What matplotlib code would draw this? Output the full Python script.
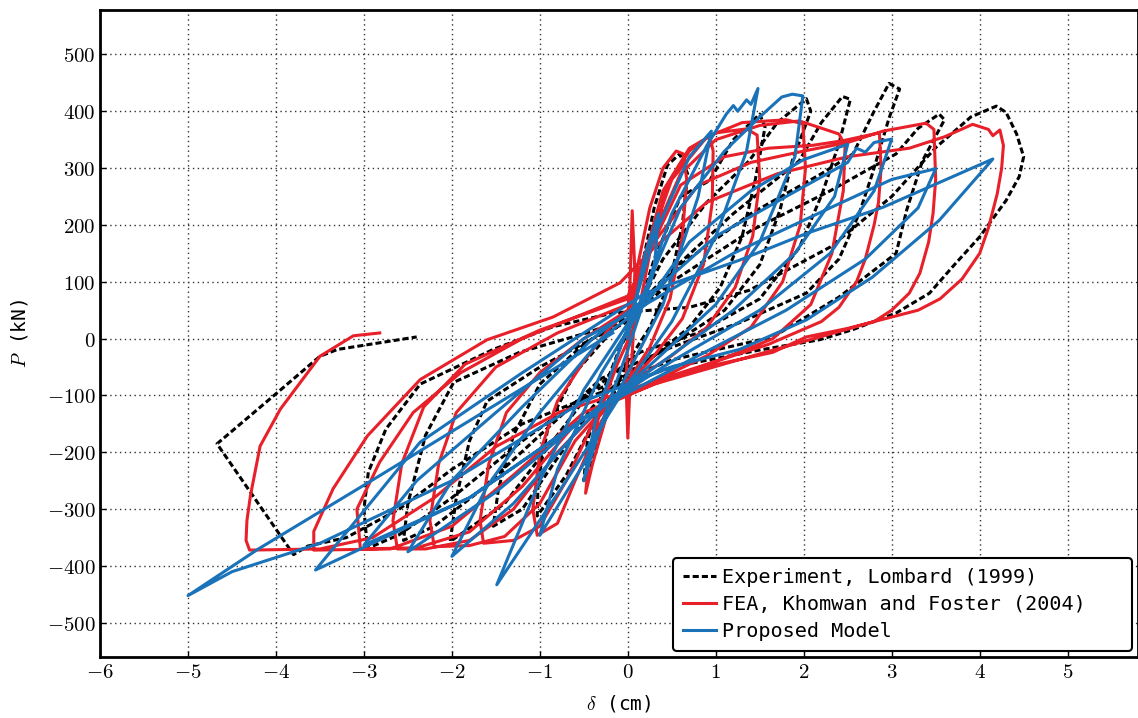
import numpy as np
import matplotlib.pyplot as plt
from matplotlib.ticker import FuncFormatter, MultipleLocator

plt.rcParams['mathtext.fontset'] = 'cm'

# Experiment, Lombard (1999): (delta [cm], P [kN]) vertices, cycle by cycle
exp_pts = [
    (0.0, 0), (0.15, 120), (0.3, 230), (0.45, 305), (0.59, 325), (0.68, 290), (0.62, 200), (0.48, 100),
    (0.25, 20), (0.0, -40), (-0.2, -110), (-0.35, -190), (-0.5, -250), (-0.46, -180), (-0.3, -100),
    (-0.1, -20), (0.1, 40),
    (0.3, 140), (0.6, 250), (0.93, 278), (1.2, 350), (1.5, 395), (1.56, 372), (1.45, 280), (1.3, 180),
    (1.05, 90), (0.7, 20), (0.3, -30), (-0.1, -80), (-0.4, -150), (-0.7, -240), (-1.03, -312),
    (-1.02, -250), (-0.9, -150), (-0.6, -60), (-0.2, 10), (0.1, 50),
    (0.4, 140), (0.9, 240), (1.38, 313), (1.7, 380), (2.03, 422), (2.08, 400), (1.87, 313), (1.73, 226),
    (1.5, 130), (1.1, 50), (0.5, -10), (0.0, -60), (-0.4, -120), (-0.8, -210), (-1.2, -300),
    (-1.53, -330), (-1.47, -264), (-1.3, -170), (-1.0, -80), (-0.5, -10), (0.0, 40),
    (0.5, 120), (1.2, 220), (1.95, 313), (2.2, 380), (2.44, 426), (2.53, 421), (2.4, 343), (2.21, 255),
    (1.95, 160), (1.5, 70), (0.8, 10), (0.14, -24), (-0.43, -94), (-0.92, -194), (-1.4, -290),
    (-2.02, -357), (-1.95, -280), (-1.8, -180), (-1.6, -110), (-1.0, -50), (-0.4, 0), (0.0, 30),
    (0.6, 130), (1.4, 220), (2.2, 290), (2.56, 325), (2.8, 400), (2.97, 449), (3.09, 439), (2.97, 388),
    (2.78, 290), (2.63, 220), (2.4, 140), (2.03, 80), (1.27, 28), (0.5, -15), (-0.3, -70), (-1.0, -170),
    (-1.7, -270), (-2.2, -330), (-2.55, -355), (-2.5, -290), (-2.3, -170), (-1.98, -77), (-1.23, -24),
    (-0.47, 10), (0.0, 35),
    (0.5, 100), (1.4, 190), (2.3, 260), (3.05, 325), (3.3, 370), (3.54, 395), (3.6, 385), (3.35, 313),
    (3.17, 226), (3.05, 150), (2.4, 73), (1.65, 3), (0.51, -37), (-0.43, -94), (-1.2, -180),
    (-2.0, -280), (-2.6, -345), (-2.96, -369), (-3.0, -300), (-2.95, -235), (-2.75, -159),
    (-2.36, -80), (-1.53, -19), (-0.85, 21), (-0.17, 45),
    (0.7, 55), (1.38, 85), (2.3, 161), (3.0, 250), (3.5, 336), (3.9, 390), (4.19, 409), (4.3, 398),
    (4.42, 360), (4.5, 320), (4.45, 285), (4.3, 243), (4.0, 179), (3.69, 126), (3.43, 80), (3.05, 45),
    (2.56, 16), (2.18, -2), (1.5, -20), (0.5, -50), (-0.4, -100), (-1.2, -150), (-2.0, -230),
    (-2.6, -300), (-3.2, -350), (-3.64, -365), (-3.8, -380), (-4.67, -185), (-4.03, -101),
    (-3.5, -31), (-3.3, -19), (-2.4, 3),
]

# FEA, Khomwan and Foster (2004)
fea_pts = [
    (0.0, 0), (0.03, 120), (0.05, 225), (0.08, 120), (0.06, 0), (0.02, -100), (0.0, -175),
    (-0.02, -80), (0.0, 0),
    (0.1, 120), (0.25, 230), (0.4, 300), (0.55, 330), (0.63, 325), (0.67, 280), (0.62, 180),
    (0.48, 70), (0.25, -15), (0.0, -75), (-0.25, -140), (-0.4, -220), (-0.48, -272), (-0.44, -210),
    (-0.32, -130), (-0.12, -45), (0.1, 30),
    (0.25, 150), (0.45, 270), (0.7, 330), (0.93, 357), (0.97, 330), (0.96, 240), (0.86, 130),
    (0.62, 35), (0.3, -30), (0.0, -80), (-0.3, -145), (-0.6, -250), (-0.8, -325), (-1.03, -346),
    (-1.08, -300), (-1.0, -200), (-0.8, -110), (-0.5, -40), (-0.2, 20), (0.05, 55),
    (0.2, 150), (0.4, 260), (0.7, 335), (1.0, 362), (1.35, 369), (1.47, 358), (1.5, 280), (1.42, 180),
    (1.22, 90), (0.9, 20), (0.5, -30), (0.0, -80), (-0.4, -150), (-0.7, -250), (-1.0, -330),
    (-1.3, -355), (-1.64, -360), (-1.68, -320), (-1.58, -220), (-1.38, -130), (-1.0, -60),
    (-0.5, 0), (0.0, 50),
    (0.2, 150), (0.5, 280), (0.9, 355), (1.3, 380), (1.8, 385), (1.99, 378), (2.02, 300), (1.96, 200),
    (1.76, 100), (1.4, 20), (0.9, -30), (0.3, -75), (-0.2, -110), (-0.6, -180), (-1.0, -290),
    (-1.4, -348), (-1.8, -364), (-2.2, -366), (-2.25, -320), (-2.15, -220), (-1.95, -130),
    (-1.5, -50), (-0.8, 10), (0.0, 60),
    (0.2, 150), (0.6, 290), (1.0, 350), (1.5, 375), (1.95, 383), (2.4, 360), (2.47, 340), (2.45, 260),
    (2.32, 150), (2.08, 60), (1.65, 0), (1.0, -40), (0.3, -80), (-0.3, -120), (-0.8, -200),
    (-1.3, -300), (-1.8, -355), (-2.3, -370), (-2.62, -370), (-2.67, -320), (-2.57, -220),
    (-2.32, -120), (-1.85, -45), (-1.0, 15), (0.0, 70),
    (0.2, 140), (0.6, 270), (1.1, 320), (1.6, 335), (2.1, 340), (2.44, 348), (2.86, 362), (2.88, 300),
    (2.85, 240), (2.8, 200), (2.7, 140), (2.6, 100), (2.4, 55), (2.2, 30), (1.6, -10), (0.8, -50),
    (0.0, -90), (-0.6, -150), (-1.2, -260), (-1.8, -340), (-2.4, -368), (-3.04, -370), (-3.08, -300),
    (-2.82, -217), (-2.44, -130), (-1.9, -60), (-1.2, 0), (-0.4, 50), (0.0, 75),
    (0.3, 170), (0.8, 270), (1.4, 310), (2.0, 330), (2.5, 345), (2.9, 365), (3.39, 379), (3.48, 368),
    (3.5, 280), (3.47, 220), (3.42, 170), (3.32, 115), (3.2, 80), (3.0, 50), (2.8, 30), (2.0, -5),
    (1.2, -40), (0.3, -80), (-0.5, -130), (-1.3, -240), (-2.0, -330), (-2.7, -370), (-3.57, -372),
    (-3.57, -339), (-3.35, -264), (-2.96, -171), (-2.36, -72), (-1.6, -2), (-0.85, 38), (-0.09, 98),
    (0.3, 160), (0.9, 240), (1.7, 290), (2.5, 320), (3.2, 335), (3.6, 355), (3.92, 377), (4.1, 368),
    (4.15, 357), (4.23, 367), (4.27, 340), (4.25, 300), (4.2, 255), (4.1, 195), (4.0, 150),
    (3.8, 105), (3.55, 70), (3.3, 50), (3.0, 38), (2.5, 18), (2.03, 3), (1.65, -24), (0.9, -49),
    (-0.05, -94), (-0.77, -129), (-1.5, -190), (-2.2, -280), (-2.9, -350), (-3.5, -370),
    (-4.3, -372), (-4.34, -355), (-4.33, -320), (-4.29, -276), (-4.18, -189), (-3.95, -124),
    (-3.5, -31), (-3.12, 5), (-2.82, 10),
]

# Proposed Model
mod_pts = [
    (0.0, 0), (0.2, 150), (0.35, 220), (0.3, 120), (0.0, -20), (-0.3, -150), (-0.5, -250),
    (-0.35, -130), (0.0, 20),
    (0.3, 180), (0.7, 320), (0.95, 365), (0.8, 250), (0.4, 60), (0.0, -60), (-0.5, -220),
    (-1.0, -346), (-0.8, -230), (-0.3, -60), (0.1, 40),
    (0.5, 220), (0.9, 340), (1.12, 395), (1.2, 410), (1.25, 400), (1.35, 420), (1.4, 412),
    (1.48, 440), (1.35, 330), (1.0, 180), (0.5, 30), (0.0, -80), (-0.7, -250), (-1.49, -433),
    (-1.0, -250), (-0.5, -90), (0.1, 50),
    (0.6, 230), (1.1, 330), (1.5, 390), (1.75, 425), (1.87, 430), (1.99, 427), (1.9, 320), (1.5, 170),
    (1.0, 60), (0.3, -40), (-0.5, -150), (-1.3, -290), (-2.0, -383), (-1.6, -260), (-1.0, -130),
    (-0.3, 0), (0.2, 60),
    (0.7, 170), (1.4, 260), (2.0, 315), (2.5, 342), (2.35, 250), (1.9, 150), (1.2, 50), (0.4, -40),
    (-0.5, -140), (-1.5, -270), (-2.5, -375), (-2.0, -250), (-1.2, -120), (-0.4, 0), (0.2, 70),
    (1.0, 180), (1.8, 250), (2.5, 310), (2.6, 335), (2.7, 328), (2.8, 345), (3.0, 351), (2.8, 260),
    (2.3, 150), (1.5, 50), (0.5, -40), (-0.5, -140), (-1.8, -280), (-3.0, -363), (-2.4, -250),
    (-1.5, -130), (-0.5, 0), (0.2, 60),
    (1.2, 150), (2.3, 230), (3.0, 280), (3.5, 299), (3.3, 230), (2.7, 140), (1.8, 50), (0.8, -30),
    (-0.3, -120), (-1.8, -280), (-3.55, -407), (-2.36, -182), (-1.2, -60), (0.2, 80),
    (1.27, 138), (2.03, 185), (2.9, 231), (4.15, 316), (3.54, 208), (2.78, 108), (2.03, 33),
    (1.27, -19), (0.51, -49), (-0.5, -110), (-2.0, -250), (-3.5, -360), (-4.5, -410), (-5.0, -452),
    (-4.2, -370), (-2.82, -241), (-0.17, 10),
]

labels = ['Experiment, Lombard (1999)', 'FEA, Khomwan and Foster (2004)   ', 'Proposed Model']

exp_d, exp_p = np.array(exp_pts).T
fea_d, fea_p = np.array(fea_pts).T
mod_d, mod_p = np.array(mod_pts).T

fig = plt.figure(figsize=(11.38, 7.18), dpi=100)
ax = fig.add_axes([0.0879, 0.085, 0.9121, 0.901])

ax.plot(exp_d, exp_p, color='black', lw=2.2, dashes=(2, 1), label=labels[0])
ax.plot(fea_d, fea_p, color='#e8202a', lw=2.2, label=labels[1])
ax.plot(mod_d, mod_p, color='#1a72b8', lw=2.2, label=labels[2])

ax.set_xlim(-6, 5.8)
ax.set_ylim(-560, 578)
ax.xaxis.set_major_locator(MultipleLocator(1))
ax.yaxis.set_major_locator(MultipleLocator(100))
ax.xaxis.set_major_formatter(FuncFormatter(lambda v, p: r'$%d$' % round(v)))
ax.yaxis.set_major_formatter(FuncFormatter(lambda v, p: r'$%d$' % round(v)))
ax.tick_params(labelsize=15, direction='in', length=4, width=1)
ax.grid(True, ls=(0, (1, 2.5)), color='0.2', lw=1.0)
for s in ax.spines.values():
    s.set_linewidth(2)

ax.set_xlabel(r'$\delta$ (cm)', fontsize=14, family='DejaVu Sans Mono', labelpad=8)
ax.set_ylabel(r'$P$ (kN)', fontsize=14, family='DejaVu Sans Mono', labelpad=12)

leg = ax.legend(loc='lower right', prop={'family': 'DejaVu Sans Mono', 'size': 14.5},
                handlelength=1.6, handletextpad=0.3, borderpad=0.5, labelspacing=0.4,
                borderaxespad=0.3, fancybox=True, framealpha=1)
leg.get_frame().set_edgecolor('black')
leg.get_frame().set_linewidth(1.5)

fig.savefig('out.png', dpi=100)
